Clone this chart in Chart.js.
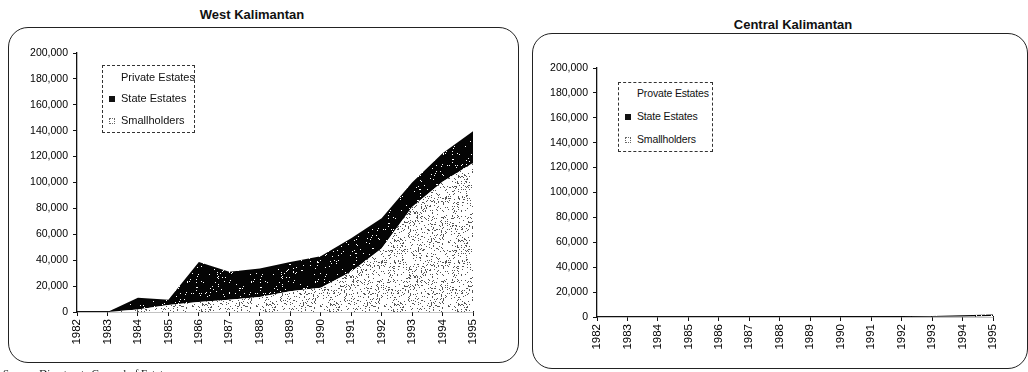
<!DOCTYPE html>
<html>
<head>
<meta charset="utf-8">
<script src="https://cdn.jsdelivr.net/npm/chart.js@4.4.1/dist/chart.umd.min.js"></script>
<style>
  html, body { margin: 0; padding: 0; background: #fff; }
  body { width: 1028px; height: 372px; position: relative; overflow: hidden;
         font-family: "Liberation Sans", Arial, sans-serif; color: #111; }
  .frame { position: absolute; border: 1.3px solid #222; border-radius: 20px; }
  .title { position: absolute; font-weight: bold; font-size: 13px; white-space: nowrap; transform: translateX(-50%); }
  canvas { position: absolute; top: 0; }
  .legend { position: absolute; border: 1px dashed #333; background: #fff; font-size: 11px; }
  .legend div { position: absolute; white-space: nowrap; line-height: 13px; }
  #lg1 { font-size: 10.5px; letter-spacing: -0.15px; }
  .sw { position: absolute; width: 6px; height: 6px; }
  .source { position: absolute; left: 3px; top: 367px; font-family: "Liberation Serif", serif; font-size: 11px; white-space: nowrap; }
</style>
</head>
<body>
<div class="frame" style="left:8px; top:27px; width:509px; height:334px;"></div>
<div class="frame" style="left:532px; top:33px; width:494px; height:334px;"></div>
<div class="title" id="t0" style="left:252px; top:7px;"></div>
<div class="title" id="t1" style="left:793px; top:17px;"></div>
<canvas id="west" width="520" height="372" style="left:0;"></canvas>
<canvas id="central" width="508" height="372" style="left:520px;"></canvas>
<div class="legend" id="lg0" style="left:102px; top:65px; width:91px; height:66px;"></div>
<div class="legend" id="lg1" style="left:618px; top:82px; width:93px; height:68px;"></div>
<div class="source">Source: Directorate General of Estates</div>
<script>
// Years on the horizontal axis
const years = ['1982','1983','1984','1985','1986','1987','1988','1989','1990','1991','1992','1993','1994','1995'];

// Planted area (ha), West Kalimantan
const westSmallholders = [0, 0, 2000, 5500, 7700, 9500, 11600, 16000, 18800, 31000, 49000, 81000, 100500, 115000];
const westState        = [0, 0, 9000, 4000, 31000, 21500, 22000, 22700, 24300, 26000, 23300, 19000, 22000, 24500];
const westPrivate      = [0, 0, 0, 0, 0, 0, 0, 0, 0, 0, 0, 0, 0, 0];

// Planted area (ha), Central Kalimantan
const centralSmallholders = [0, 0, 0, 0, 0, 0, 0, 0, 0, 0, 0, 300, 500, 800];
const centralState        = [0, 0, 0, 0, 0, 600, 600, 700, 700, 400, 600, 500, 900, 1200];
const centralPrivate      = [0, 0, 0, 0, 0, 0, 0, 0, 0, 0, 0, 0, 0, 0];

const titles = ['West Kalimantan', 'Central Kalimantan'];
const westLegend = ['Private Estates', 'State Estates', 'Smallholders'];
const centralLegend = ['Provate Estates', 'State Estates', 'Smallholders'];

// deterministic hash for the stipple textures
function hash(i) { const x = Math.sin(i * 12.9898 + 78.233) * 43758.5453; return x - Math.floor(x); }

function makePattern(bg, dot, density) {
  const c = document.createElement('canvas');
  c.width = 64; c.height = 64;
  const g = c.getContext('2d');
  g.fillStyle = bg; g.fillRect(0, 0, 64, 64);
  g.fillStyle = dot;
  const n = Math.round(64 * 64 * density);
  for (let i = 0; i < n; i++) {
    const x = Math.floor(hash(i * 2 + 1) * 64);
    const y = Math.floor(hash(i * 2 + 7) * 64);
    g.fillRect(x, y, 1, 1);
  }
  return g.createPattern(c, 'repeat');
}
const darkFill = makePattern('#050505', '#ffffff', 0.035);
const lightFill = makePattern('#ffffff', '#555555', 0.14);

document.getElementById('t0').textContent = titles[0];
document.getElementById('t1').textContent = titles[1];

function buildLegend(id, labels, textLeft, swLeft, rows) {
  const box = document.getElementById(id);
  const r = box.getBoundingClientRect();
  labels.forEach((lab, i) => {
    const t = document.createElement('div');
    t.textContent = lab;
    t.style.left = (textLeft - r.left) + 'px';
    t.style.top = (rows[i] - 7 - r.top) + 'px';
    box.appendChild(t);
    if (i > 0) {
      const s = document.createElement('div');
      s.className = 'sw';
      s.style.left = (swLeft - r.left) + 'px';
      s.style.top = (rows[i] - 3 - r.top) + 'px';
      if (i === 1) s.style.background = '#111';
      else { s.style.border = '1px dotted #666'; s.style.width = '4px'; s.style.height = '4px'; }
      box.appendChild(s);
    }
  });
}
buildLegend('lg0', westLegend, 120, 108, [77, 98, 120]);
buildLegend('lg1', centralLegend, 636, 624, [93, 116, 139]);

const font = { family: '"Liberation Sans", Arial, sans-serif', size: 10.5 };

function makeChart(id, small, state, priv, pad) {
  new Chart(document.getElementById(id), {
    type: 'line',
    data: {
      labels: years,
      datasets: [
        { label: 'Smallholders', data: small, fill: 'origin', backgroundColor: lightFill, borderWidth: 0, pointRadius: 0, tension: 0 },
        { label: 'State Estates', data: state, fill: '-1', backgroundColor: darkFill, borderWidth: 0, pointRadius: 0, tension: 0 },
        { label: 'Private Estates', data: priv, fill: '-1', backgroundColor: '#ffffff', borderWidth: 0, pointRadius: 0, tension: 0 }
      ]
    },
    options: {
      responsive: false,
      animation: false,
      events: [],
      layout: { padding: pad },
      plugins: { legend: { display: false }, tooltip: { enabled: false } },
      scales: {
        x: {
          type: 'category',
          offset: false,
          afterFit: s => { s.height = 40; },
          grid: { drawOnChartArea: false, drawTicks: true, tickLength: 4, color: '#111' },
          border: { color: '#111', width: 1.3 },
          ticks: { color: '#000', font: { ...font, size: 11.5 }, minRotation: 90, maxRotation: 90, autoSkip: false, padding: 3 }
        },
        y: {
          stacked: true,
          min: 0, max: 200000,
          afterFit: s => { s.width = 77; },
          grid: { drawOnChartArea: false, drawTicks: true, tickLength: 4, color: '#111' },
          border: { color: '#111', width: 1.3 },
          ticks: { color: '#000', font: font, stepSize: 20000, padding: 5 }
        }
      }
    }
  });
}

makeChart('west', westSmallholders, westState, westPrivate, { left: 0, top: 53, right: 47, bottom: 20 });
makeChart('central', centralSmallholders, centralState, centralPrivate, { left: 0, top: 68, right: 35, bottom: 15 });
</script>
</body>
</html>
